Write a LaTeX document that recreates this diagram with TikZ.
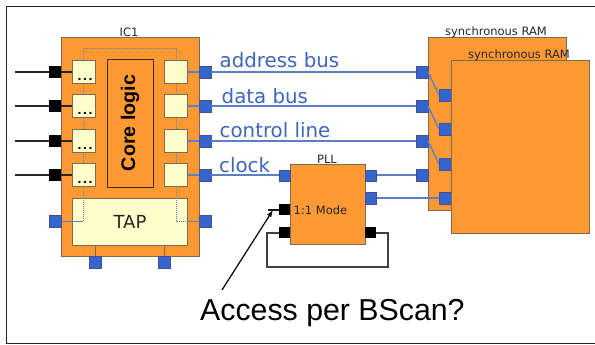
\documentclass[tikz,border=0pt]{standalone}
\usepackage{fontspec}
\usetikzlibrary{arrows.meta}
\setmainfont{Liberation Sans}
\newfontfamily\dv{DejaVu Sans}
\definecolor{org}{HTML}{FF9933}
\definecolor{edgeb}{HTML}{7F6A50}
\definecolor{cream}{HTML}{FFFFCC}
\definecolor{portb}{HTML}{3366CC}
\definecolor{wireb}{HTML}{5B80C8}
\definecolor{txtb}{HTML}{3F66BE}
\tikzset{x=1pt,y=-1pt,
 chip/.style={draw=edgeb,line width=.8pt,fill=org},
 cell/.style={draw=edgeb,line width=.8pt,fill=cream},
 bport/.style={draw=blue!40!black!70,line width=.5pt,fill=portb},
 kport/.style={fill=black},
 bwire/.style={draw=wireb,line width=1.1pt},
 kwire/.style={draw=black!85,line width=1.1pt},
 dotw/.style={draw=wireb!55!gray,densely dotted,line width=1pt},
 lbl/.style={inner sep=0pt,font=\fontsize{19.8}{20}\dv,text=txtb,anchor=base west},
 tiny/.style={inner sep=0pt,font=\fontsize{11.5}{12}\dv,text=black!85}}
\begin{document}
\begin{tikzpicture}
\useasboundingbox (0,0) rectangle (595,345);
\fill[white] (0,0) rectangle (595,345);
\draw[black!85,line width=1pt] (595,6.5) -- (6,6.5) -- (6,343.5) -- (595,343.5);
% IC1
\path[chip] (61,37) rectangle (199,256);
\node[tiny] (ic1) at (129,32) {IC1};
\draw[dotw] (83,221) -- (83,49) -- (176,49) -- (176,221);
% wires left
\foreach \y [count=\i] in {72,106,141,175}{
 \coordinate (L\i) at (15,\y);
 \draw[kwire] (L\i) -- (72,\y);
 \path[kport] (49,\y-6) rectangle (61,\y+6);
 \path[cell] (72,\y-11.5) rectangle (95,\y+11.5);
 \node[font=\bfseries\fontsize{14}{14}\selectfont,inner sep=0pt,anchor=base] (dots\i) at (85,\y+8.5) {.\kern1.6pt.\kern1.6pt.};
 \draw[wireb,line width=1.1pt] (187,\y) -- (199,\y);
 \path[cell] (164,\y-11.5) rectangle (187,\y+11.5);
 \path[bport] (199,\y-6) rectangle (211,\y+6);
}
\path[draw=black!70!orange,line width=1pt,fill=org] (107,60) rectangle (153,187);
\node[rotate=90,font=\bfseries\fontsize{19.7}{20}\selectfont,inner sep=0pt] (core) at (130,123) {Core logic};
\path[cell] (72,198) rectangle (187,245);
\node[font=\fontsize{18}{18}\dv,inner sep=0pt,text=black!85] (tap) at (130,221.5) {TAP};
\draw[dotw] (83,198) -- (83,221);
\draw[dotw] (176,198) -- (176,221) -- (187,221);
\draw[wireb,line width=1pt] (61,221) -- (83,221);
\draw[wireb,line width=1pt] (187,221) -- (199,221);
\path[bport] (49,215.5) rectangle (61,227);
\path[bport] (199,215.5) rectangle (211,227);
\draw[edgeb,line width=1pt] (95,245) -- (95,256) (164,245) -- (164,256);
\path[bport] (89,256) rectangle (101,268);
\path[bport] (158,256) rectangle (170,268);
% back RAM
\path[chip] (428,37) rectangle (566,210);
\node[tiny] (ramAl) at (496,32) {synchronous RAM};
% wires
\foreach \y in {72,106,141}{\draw[bwire] (211,\y) -- (416,\y);}
\draw[bwire] (211,175) -- (279,175);
\draw[bwire] (375,175) -- (416,175);
\draw[bwire] (375,198) -- (439,198);
\foreach \y in {72,106,141,175}{\path[bport] (416,\y-6) rectangle (428,\y+6);}
\foreach \y in {72,106,141}{\draw[bwire,line width=1.4pt] (428,\y) -- (439,\y+23);}
\foreach \y in {95,129,164,198}{\path[bport] (439,\y-6) rectangle (451,\y+6);}
% front RAM
\path[chip] (451,60) rectangle (589,233);
\node[tiny] (ramBl) at (519,55.5) {synchronous RAM};
% labels
\node[lbl] (t1) at (219.5,68) {address bus};
\node[lbl] (t2) at (221.5,103) {data bus};
\node[lbl] (t3) at (219.5,137) {control line};
\node[lbl] (t4) at (219,172) {clock};
% PLL
\path[chip] (290,164) rectangle (365,244);
\node[tiny] (plll) at (327,159) {PLL};
\path[bport] (279,170) rectangle (290,181);
\path[bport] (365,170) rectangle (376,181);
\path[bport] (365,192) rectangle (376,204);
\path[kport] (279,204) rectangle (290,215);
\path[kport] (279,227) rectangle (290,238);
\path[kport] (365,227) rectangle (376,238);
\node[tiny,anchor=base west] (mode) at (293.5,214.5) {1:1 Mode};
\draw[black!75,line width=1.2pt] (279,233) -- (267,233) -- (267,267) -- (388,267) -- (388,233) -- (376,233);
\draw[black!90,line width=1.2pt] (279,210) -- (268,210);
\draw[black,line width=1.2pt,-{Latex[length=7pt,width=5pt]}] (222,290) -- (273,210);
\node[inner sep=0pt,anchor=base west,font=\fontsize{30.3}{30}\selectfont,text=black] (acc) at (200,320) {Access per BScan?};
\end{tikzpicture}
\end{document}
